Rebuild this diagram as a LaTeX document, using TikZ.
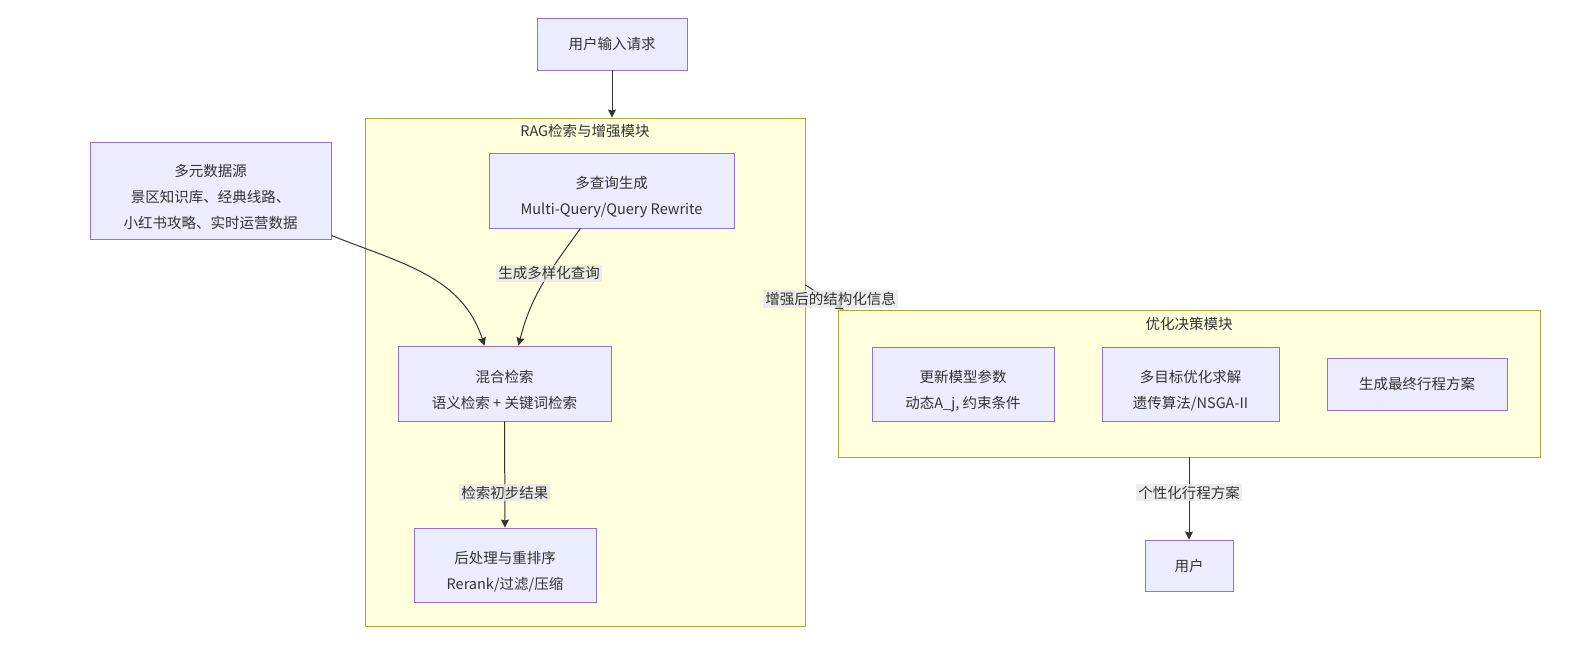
\documentclass[tikz,border=0pt]{standalone}
\usepackage{fontspec}
\setmainfont{Noto Sans CJK SC}
\usetikzlibrary{arrows.meta}
\definecolor{boxfill}{HTML}{ECECFF}
\definecolor{boxline}{HTML}{9370DB}
\definecolor{groupfill}{HTML}{FFFFDE}
\definecolor{groupline}{HTML}{AAAA33}
\definecolor{ink}{HTML}{333333}
\definecolor{labelbg}{HTML}{E8E8E8}
\newcommand{\toplift}{\rule{0pt}{26pt}}
\tikzset{
	every box/.style={
		draw=boxline,
		fill=boxfill,
		line width=0.9pt,
		text=ink,
		align=center,
		inner sep=0pt,
		font=\fontsize{14.5}{26}\selectfont
	},
	group/.style={
		draw=groupline,
		fill=groupfill,
		line width=0.9pt,
		inner sep=0pt
	},
	group title/.style={
		text=ink,
		font=\fontsize{14.5}{18}\selectfont
	},
	edge label/.style={
		fill=labelbg,
		fill opacity=0.8,
		text opacity=1,
		text=ink,
		inner sep=2pt,
		font=\fontsize{14.5}{18}\selectfont
	},
	link/.style={
		->,
		draw=ink,
		line width=1pt
	},
}

\begin{document}
\begin{tikzpicture}[x=1pt, y=-1pt, >={Stealth[length=8pt, width=8pt, inset=1pt]}]

\useasboundingbox (0,0) rectangle (1573,653);

\node [group, minimum width=440, minimum height=508] (rag) at (585,372) {};
\node [group title] (rag-title) at (585,131) {RAG检索与增强模块};

\node [group, minimum width=702, minimum height=147] (opt) at (1189,383.5) {};
\node [group title] (opt-title) at (1189,324) {优化决策模块};

\node [every box, minimum width=150, minimum height=52] (request) at (612,44) {用户输入请求};

\node [every box, minimum width=241, minimum height=97] (source) at (210.5,190.5)
	{\toplift 多元数据源\\景区知识库、经典线路、\\小红书攻略、实时运营数据};

\node [every box, minimum width=245, minimum height=75] (query) at (611.5,190.5)
	{\toplift 多查询生成\\Multi-Query/Query Rewrite};

\node [every box, minimum width=213, minimum height=75] (hybrid) at (504.5,383.5)
	{\toplift 混合检索\\语义检索 + 关键词检索};

\node [every box, minimum width=182, minimum height=74] (rerank) at (505,565)
	{\toplift 后处理与重排序\\Rerank/过滤/压缩};

\foreach \n/\x/\w/\h/\t in {
	update/963/182/74/{\toplift 更新模型参数\\动态A\_j, 约束条件},
	solve/1190.5/177/74/{\toplift 多目标优化求解\\遗传算法/NSGA-II},
	plan/1417/180/52/{生成最终行程方案}}
	\node [every box, minimum width=\w, minimum height=\h] (\n) at (\x,384) {\t};

\node [every box, minimum width=88, minimum height=51] (user) at (1189,565.5) {用户};

\draw [link] (request.south) -- (request.south |- rag.north);

\draw [link] ([yshift=4pt]source.south east) to [out=-22, in=108] ([xshift=-20pt]hybrid.north);

\draw [link] ([xshift=-31pt]query.south) to [out=-126, in=76]
	node [edge label, pos=0.4] {生成多样化查询} ([xshift=14pt]hybrid.north);

\draw [link] (hybrid.south) -- (rerank.north)
	node [edge label, pos=0.67] {检索初步结果};

\draw [link] (rag.east |- 0,285) -- ([xshift=6pt]opt.north west)
	node [edge label, midway, xshift=6pt, yshift=-2pt] {增强后的结构化信息};

\draw [link] (opt.south) -- (user.north)
	node [edge label, pos=0.43] {个性化行程方案};

\end{tikzpicture}
\end{document}
